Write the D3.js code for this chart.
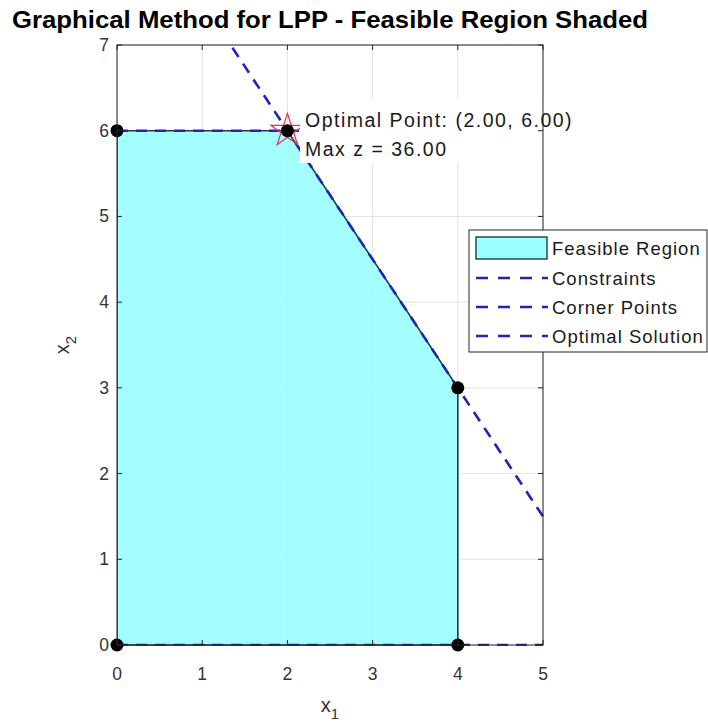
<!DOCTYPE html>
<html>
<head>
<meta charset="utf-8">
<script src="https://cdn.jsdelivr.net/npm/d3@7"></script>
<style>
  body { margin: 0; background: #fff; }
  text { font-family: "Liberation Sans", Arial, sans-serif; }
</style>
</head>
<body>
<div id="chart"></div>
<script>
'use strict'

var width = 708;
var height = 726;
var plotLeft = 117, plotRight = 543, plotTop = 45, plotBottom = 645;

// problem data: max z = 3 x1 + 5 x2
var objCoef = [3, 5];
// constraints a1*x1 + a2*x2 <= b  (last two are non-negativity)
var consA1 = [1, 0, 3, -1, 0];
var consA2 = [0, 2, 2, 0, -1];
var consB = [4, 12, 18, 0, 0];
// corner points of the feasible region
var cornerX = [0, 4, 4, 2, 0];
var cornerY = [0, 0, 3, 6, 6];
var optX = 2, optY = 6;
var xTicks = [0, 1, 2, 3, 4, 5];
var yTicks = [0, 1, 2, 3, 4, 5, 6, 7];
var legendLabels = ['Feasible Region', 'Constraints', 'Corner Points', 'Optimal Solution'];

var axisColor = '#262626';
var lineBlue = '#2323b4';
var fillCyan = '#9bffff';

var svg = d3.select('#chart').append('svg')
  .attr('width', width)
  .attr('height', height);

var x = d3.scaleLinear().domain([0, 5]).range([plotLeft, plotRight]);
var y = d3.scaleLinear().domain([0, 7]).range([plotBottom, plotTop]);

svg.append('defs').append('clipPath').attr('id', 'plotclip')
  .append('rect')
    .attr('x', plotLeft).attr('y', plotTop - 1)
    .attr('width', plotRight - plotLeft + 1).attr('height', plotBottom - plotTop + 2);

//grid
var grid = svg.append('g');
grid.selectAll('.gx').data(xTicks).enter().append('line')
  .attr('x1', function(d){return x(d);}).attr('x2', function(d){return x(d);})
  .attr('y1', plotTop).attr('y2', plotBottom)
  .attr('stroke', '#e3e3e3').attr('stroke-width', 1);
grid.selectAll('.gy').data(yTicks).enter().append('line')
  .attr('y1', function(d){return y(d);}).attr('y2', function(d){return y(d);})
  .attr('x1', plotLeft).attr('x2', plotRight)
  .attr('stroke', '#e3e3e3').attr('stroke-width', 1);

var plot = svg.append('g').attr('clip-path', 'url(#plotclip)');

//feasible region
var corners = cornerX.map(function(d, i){return [x(d), y(cornerY[i])];});
plot.append('polygon')
  .attr('points', corners.map(function(p){return p.join(',');}).join(' '))
  .attr('fill', fillCyan)
  .attr('fill-opacity', 0.92)
  .attr('stroke', '#1d3d44')
  .attr('stroke-width', 1.6);

//constraint lines x2 = (b - a1*x1)/a2, only where a2 != 0
var xs = [0, 5];
consB.forEach(function(b, i){
  if (consA2[i] === 0) return;
  var pts = xs.map(function(v){return [x(v), y((b - consA1[i] * v) / consA2[i])];});
  plot.append('path')
    .attr('d', d3.line()(pts))
    .attr('fill', 'none')
    .attr('stroke', lineBlue)
    .attr('stroke-width', 2.6)
    .attr('stroke-dasharray', '11,8');
});

//optimal point star
var star = d3.symbol().type(d3.symbolStar).size(340);
svg.append('path')
  .attr('d', star())
  .attr('transform', 'translate(' + x(optX) + ',' + y(optY) + ')')
  .attr('fill', 'none')
  .attr('stroke', '#e8325a')
  .attr('stroke-width', 1.2);

//corner points
svg.selectAll('.corner').data(cornerX).enter().append('circle')
  .attr('cx', function(d){return x(d);})
  .attr('cy', function(d, i){return y(cornerY[i]);})
  .attr('r', 6.5)
  .attr('fill', '#000');

//annotation
var zMax = objCoef[0] * optX + objCoef[1] * optY;
svg.append('rect')
  .attr('x', 300).attr('y', 99).attr('width', 284).attr('height', 64)
  .attr('fill', '#fff');
svg.append('text')
  .attr('x', 305).attr('y', 127)
  .attr('font-size', 19.5).attr('letter-spacing', 1.5).attr('fill', '#1a1a1a')
  .text('Optimal Point: (' + optX.toFixed(2) + ', ' + optY.toFixed(2) + ')');
svg.append('text')
  .attr('x', 305).attr('y', 156)
  .attr('font-size', 19.5).attr('letter-spacing', 1.5).attr('fill', '#1a1a1a')
  .text('Max z = ' + zMax.toFixed(2));

//axes box and ticks
svg.append('rect')
  .attr('x', plotLeft).attr('y', plotTop)
  .attr('width', plotRight - plotLeft).attr('height', plotBottom - plotTop)
  .attr('fill', 'none').attr('stroke', axisColor).attr('stroke-width', 1);

var ticks = svg.append('g').attr('stroke', axisColor);
xTicks.forEach(function(t){
  ticks.append('line').attr('x1', x(t)).attr('x2', x(t)).attr('y1', plotBottom).attr('y2', plotBottom - 5);
  ticks.append('line').attr('x1', x(t)).attr('x2', x(t)).attr('y1', plotTop).attr('y2', plotTop + 5);
});
yTicks.forEach(function(t){
  ticks.append('line').attr('y1', y(t)).attr('y2', y(t)).attr('x1', plotLeft).attr('x2', plotLeft + 5);
  ticks.append('line').attr('y1', y(t)).attr('y2', y(t)).attr('x1', plotRight).attr('x2', plotRight - 5);
});

svg.selectAll('.xt').data(xTicks).enter().append('text')
  .attr('x', function(d){return x(d);})
  .attr('y', 680)
  .attr('text-anchor', 'middle')
  .attr('font-size', 17.5).attr('fill', '#333')
  .text(function(d){return d;});

svg.selectAll('.yt').data(yTicks).enter().append('text')
  .attr('x', 109)
  .attr('y', function(d){return y(d) + 6;})
  .attr('text-anchor', 'end')
  .attr('font-size', 17.5).attr('fill', '#333')
  .text(function(d){return d;});

//axis labels
var xl = svg.append('text')
  .attr('x', 330).attr('y', 712)
  .attr('text-anchor', 'middle')
  .attr('font-size', 20).attr('fill', '#333');
xl.append('tspan').text('x');
xl.append('tspan').attr('dy', 7).attr('font-size', 15).text('1');

var yl = svg.append('text')
  .attr('transform', 'translate(69,345) rotate(-90)')
  .attr('text-anchor', 'middle')
  .attr('font-size', 20).attr('fill', '#333');
yl.append('tspan').text('x');
yl.append('tspan').attr('dy', 7).attr('font-size', 15).text('2');

//title
svg.append('text')
  .attr('x', 330).attr('y', 28)
  .attr('text-anchor', 'middle')
  .attr('font-size', 24).attr('font-weight', 'bold').attr('fill', '#000')
  .attr('textLength', 636).attr('lengthAdjust', 'spacingAndGlyphs')
  .text('Graphical Method for LPP - Feasible Region Shaded');

//legend
var lg = svg.append('g');
lg.append('rect')
  .attr('x', 469).attr('y', 230).attr('width', 238).attr('height', 122)
  .attr('fill', '#fff').attr('stroke', axisColor).attr('stroke-width', 1);
var rowY = [248, 278, 307, 336];
legendLabels.forEach(function(lab, i){
  if (i === 0) {
    lg.append('rect')
      .attr('x', 476).attr('y', rowY[i] - 11).attr('width', 71).attr('height', 22)
      .attr('fill', fillCyan).attr('stroke', '#1d3d44').attr('stroke-width', 1.4);
  } else {
    lg.append('line')
      .attr('x1', 476).attr('x2', 548).attr('y1', rowY[i]).attr('y2', rowY[i])
      .attr('stroke', lineBlue).attr('stroke-width', 2.6)
      .attr('stroke-dasharray', '12,10');
  }
  lg.append('text')
    .attr('x', 552).attr('y', rowY[i] + 6.5)
    .attr('font-size', 18.5).attr('letter-spacing', 1).attr('fill', '#1a1a1a')
    .text(lab);
});
</script>
</body>
</html>
